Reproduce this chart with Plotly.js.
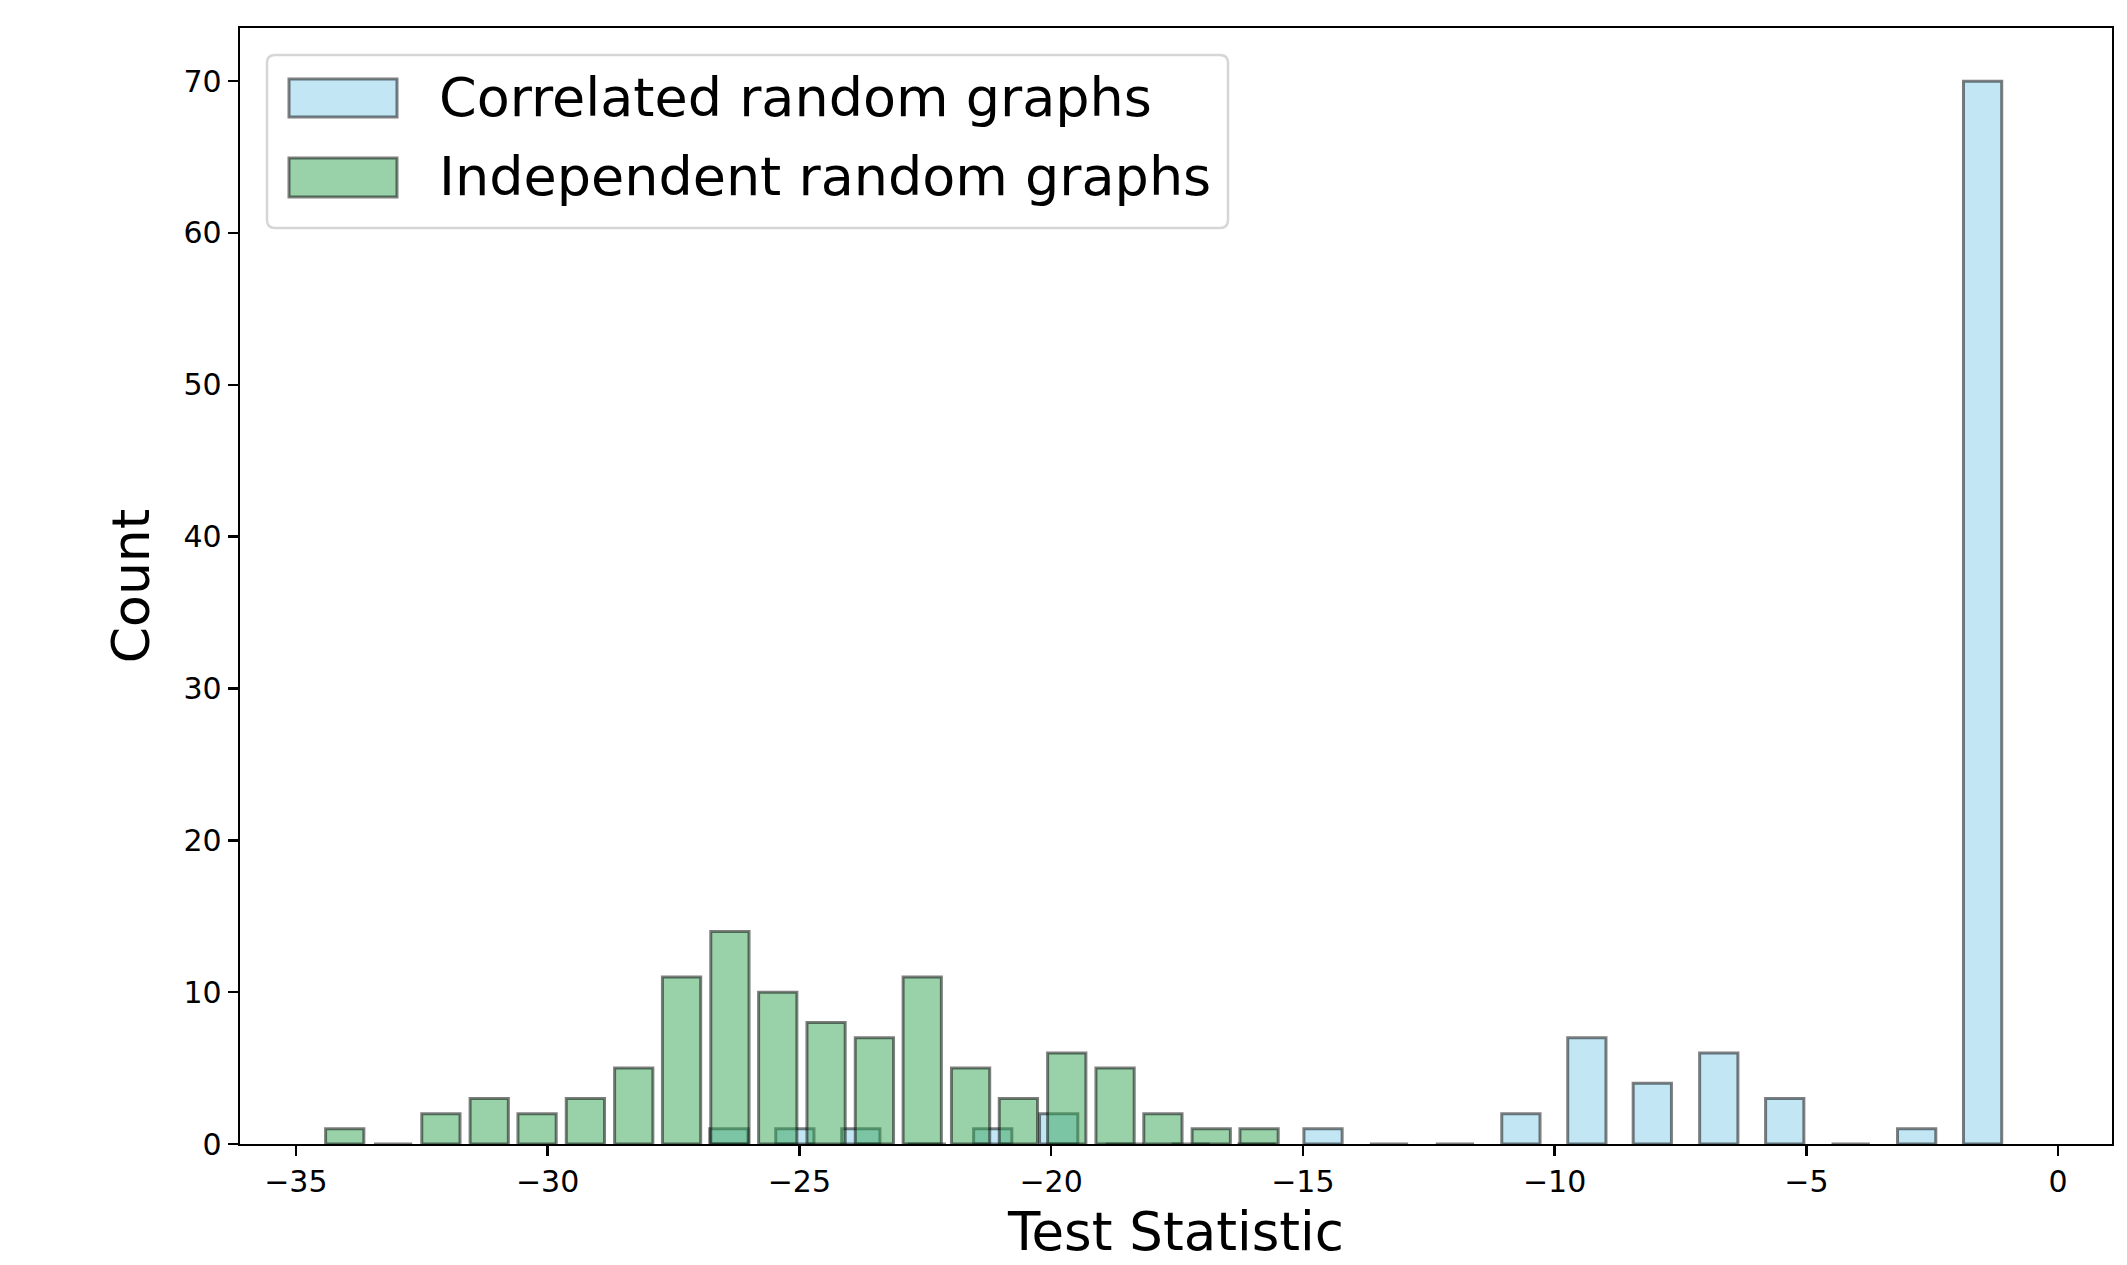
<!DOCTYPE html>
<html>
<head>
<meta charset="utf-8">
<script src="https://cdn.plot.ly/plotly-3.0.1.min.js"></script>
<style>html,body{margin:0;padding:0;background:#fff;}#chart{width:2127px;height:1265px;}</style>
</head>
<body>
<div id="chart"></div>
<script>
// Bin centres and counts
const correlatedCenters = [-26.40, -25.09, -23.78, -22.47, -21.16, -19.85, -18.54, -17.23, -15.92, -14.60,
                           -13.29, -11.98, -10.67, -9.36, -8.06, -6.74, -5.43, -4.12, -2.81, -1.50];
const correlatedCounts  = [1, 1, 1, 0, 1, 2, 0, 0, 0, 1, 0, 0, 2, 7, 4, 6, 3, 0, 1, 70];

const independentCenters = [-34.03, -33.07, -32.12, -31.16, -30.21, -29.25, -28.29, -27.34, -26.38, -25.43,
                            -24.47, -23.51, -22.56, -21.60, -20.65, -19.69, -18.73, -17.78, -16.82, -15.87];
const independentCounts  = [1, 0, 2, 3, 2, 3, 5, 11, 14, 10, 8, 7, 11, 5, 3, 6, 5, 2, 1, 1];

const seriesNames = ['Correlated random graphs', 'Independent random graphs'];
const xTicks = [-35, -30, -25, -20, -15, -10, -5, 0];
const yTicks = [0, 10, 20, 30, 40, 50, 60, 70];

const FONT = 'DejaVu Sans, Liberation Sans, sans-serif';
const BLUE = 'rgba(135,206,235,0.5)';
const GREEN = 'rgba(52,163,84,0.5)';
const EDGE = 'rgba(0,0,0,0.5)';
const BAR_W = 0.76;

const W = 2127, H = 1265;
const M = {l: 240, r: 15, t: 28, b: 121};
const PW = W - M.l - M.r, PH = H - M.t - M.b;
const px = x => (x - M.l) / PW;
const py = y => (H - M.b - y) / PH;

const traces = [
  {type: 'bar', x: correlatedCenters, y: correlatedCounts, width: BAR_W, name: seriesNames[0],
   marker: {color: BLUE, line: {color: EDGE, width: 3}}, showlegend: false},
  {type: 'bar', x: independentCenters, y: independentCounts, width: BAR_W, name: seriesNames[1],
   marker: {color: GREEN, line: {color: EDGE, width: 3}}, showlegend: false}
];

// Legend drawn to resemble the reference (large patches)
function roundRect(x0, y0, x1, y1, r) {
  const X = v => px(v).toFixed(5), Y = v => py(v).toFixed(5);
  return `M ${X(x0 + r)} ${Y(y0)} L ${X(x1 - r)} ${Y(y0)} Q ${X(x1)} ${Y(y0)} ${X(x1)} ${Y(y0 + r)} ` +
         `L ${X(x1)} ${Y(y1 - r)} Q ${X(x1)} ${Y(y1)} ${X(x1 - r)} ${Y(y1)} L ${X(x0 + r)} ${Y(y1)} ` +
         `Q ${X(x0)} ${Y(y1)} ${X(x0)} ${Y(y1 - r)} L ${X(x0)} ${Y(y0 + r)} Q ${X(x0)} ${Y(y0)} ${X(x0 + r)} ${Y(y0)} Z`;
}
const shapes = [
  {type: 'path', xref: 'paper', yref: 'paper', path: roundRect(267, 55, 1228, 228, 8),
   fillcolor: 'rgba(255,255,255,0.8)', line: {color: '#d6d6d6', width: 2.5}},
  {type: 'rect', xref: 'paper', yref: 'paper', x0: px(289), x1: px(397), y0: py(79), y1: py(117),
   fillcolor: BLUE, line: {color: EDGE, width: 3}},
  {type: 'rect', xref: 'paper', yref: 'paper', x0: px(289), x1: px(397), y0: py(158), y1: py(197),
   fillcolor: GREEN, line: {color: EDGE, width: 3}}
];
const annotations = [
  {xref: 'paper', yref: 'paper', x: px(437), y: py(98), text: seriesNames[0], showarrow: false,
   xanchor: 'left', yanchor: 'middle', font: {family: FONT, size: 54, color: 'black'}},
  {xref: 'paper', yref: 'paper', x: px(437), y: py(177), text: seriesNames[1], showarrow: false,
   xanchor: 'left', yanchor: 'middle', font: {family: FONT, size: 54, color: 'black'}}
];

const layout = {
  width: W, height: H,
  margin: M,
  paper_bgcolor: 'white', plot_bgcolor: 'white',
  barmode: 'overlay',
  bargap: 0,
  font: {family: FONT, color: 'black'},
  showlegend: false,
  xaxis: {
    range: [-36.11, 1.07], tickvals: xTicks, ticks: 'outside', ticklen: 10, tickwidth: 2.4, tickcolor: 'black',
    showline: true, linecolor: 'black', linewidth: 2.4, mirror: true, showgrid: false, zeroline: false,
    tickfont: {family: FONT, size: 30, color: 'black'}, automargin: false,
    title: {text: 'Test Statistic', font: {family: FONT, size: 53, color: 'black'}, standoff: 15}
  },
  yaxis: {
    range: [0, 73.5], tickvals: yTicks, ticks: 'outside', ticklen: 10, tickwidth: 2.4, tickcolor: 'black',
    showline: true, linecolor: 'black', linewidth: 2.4, mirror: true, showgrid: false, zeroline: false,
    tickfont: {family: FONT, size: 30, color: 'black'}, automargin: false,
    title: {text: 'Count', font: {family: FONT, size: 52, color: 'black'}, standoff: 17}
  },
  shapes: shapes,
  annotations: annotations
};

Plotly.newPlot('chart', traces, layout, {staticPlot: true, displayModeBar: false});
</script>
</body>
</html>
